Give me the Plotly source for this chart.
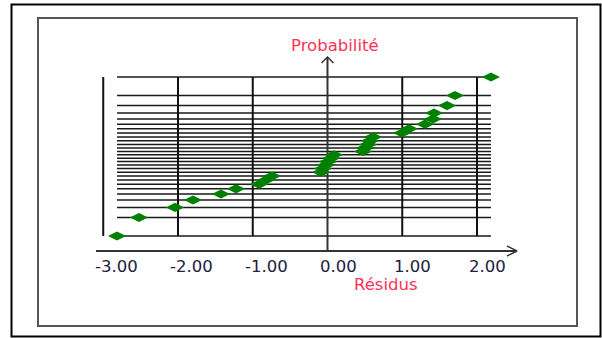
import plotly.graph_objects as go

# ---- data ----
residus = [-2.816, -2.522, -2.040, -1.799, -1.425, -1.224, -0.916, -0.823, -0.742,
           -0.087, -0.060, -0.020, 0.007, 0.047, 0.087,
           0.475, 0.502, 0.542, 0.569, 0.609,
           0.997, 1.090, 1.304, 1.411, 1.425, 1.599, 1.706, 2.187]
probabilite_z = [-2.100, -1.611, -1.345, -1.150, -0.992, -0.855, -0.732, -0.619, -0.514,
                 -0.414, -0.318, -0.226, -0.135, -0.045, 0.045, 0.135, 0.226, 0.318,
                 0.414, 0.514, 0.619, 0.732, 0.855, 0.992, 1.150, 1.345, 1.611, 2.100]
tick_values = [-3, -2, -1, 0, 1, 2]
tick_labels = ["-3.00", "-2.00", "-1.00", "0.00", "1.00", "2.00"]
x_title = "Résidus"
y_title = "Probabilité"

W, H = 602, 338
# pixel <-> data mapping (plot area = whole page)
X0_PX, X_UNIT = 327.5, 74.75
Y0_PX, Y_UNIT = 156.5, 159.0 / 4.2

def px_x(px):
    return (px - X0_PX) / X_UNIT

def px_y(py):
    return (Y0_PX - py) / Y_UNIT

xr = [px_x(0), px_x(W)]
yr = [px_y(H), px_y(0)]

fig = go.Figure()

# horizontal probability lines (one per observation), spanning data range
xmin, xmax = min(residus), max(residus)
hx, hy = [], []
for z in probabilite_z:
    hx += [xmin, xmax, None]
    hy += [z, z, None]
fig.add_trace(go.Scatter(x=hx, y=hy, mode="lines",
                         line=dict(color="#1a1a1a", width=1.5),
                         hoverinfo="skip", showlegend=False))

# vertical grid lines at ticks (except 0 = axis)
zmin, zmax = min(probabilite_z), max(probabilite_z)
vx, vy = [], []
for t in tick_values:
    if t == 0:
        continue
    vx += [t, t, None]
    vy += [zmin, zmax, None]
fig.add_trace(go.Scatter(x=vx, y=vy, mode="lines",
                         line=dict(color="#111111", width=2),
                         hoverinfo="skip", showlegend=False))

# axes
x_axis_y = px_y(251)
y_axis_top = px_y(57)
fig.add_trace(go.Scatter(x=[px_x(96), px_x(516), None, 0, 0],
                         y=[x_axis_y, x_axis_y, None, x_axis_y, y_axis_top],
                         mode="lines", line=dict(color="#333333", width=2),
                         hoverinfo="skip", showlegend=False))
# arrow heads
fig.add_trace(go.Scatter(x=[px_x(507), px_x(517), px_x(507), None,
                            px_x(321.5), 0, px_x(333.5)],
                         y=[px_y(246), x_axis_y, px_y(256), None,
                            px_y(63), y_axis_top, px_y(63)],
                         mode="lines", line=dict(color="#333333", width=1.5),
                         hoverinfo="skip", showlegend=False))

# points
fig.add_trace(go.Scatter(x=residus, y=probabilite_z, mode="markers",
                         marker=dict(symbol="diamond-wide", size=13, color="#008000",
                                     line=dict(width=0)),
                         showlegend=False))

annotations = []
for t, lab in zip(tick_values, tick_labels):
    annotations.append(dict(x=t, y=px_y(266), xref="x", yref="y", text=lab,
                            showarrow=False, xanchor="left", yanchor="middle", xshift=-10,
                            font=dict(family="DejaVu Sans", size=16.5, color="#202040")))
annotations.append(dict(x=px_x(334.5), y=px_y(45.5), xref="x", yref="y", text=y_title,
                        showarrow=False, xanchor="center", yanchor="middle",
                        font=dict(family="DejaVu Sans", size=16.5, color="#ff3355")))
annotations.append(dict(x=px_x(386), y=px_y(284), xref="x", yref="y", text=x_title,
                        showarrow=False, xanchor="center", yanchor="middle",
                        font=dict(family="DejaVu Sans", size=16.5, color="#ff3355")))

shapes = [
    dict(type="rect", xref="paper", yref="paper",
         x0=11.5 / W, x1=600.5 / W, y0=1 - 336.5 / H, y1=1 - 4.5 / H,
         line=dict(color="#000000", width=2)),
    dict(type="rect", xref="paper", yref="paper",
         x0=38 / W, x1=577 / W, y0=1 - 326 / H, y1=1 - 18 / H,
         line=dict(color="#555555", width=2)),
]

fig.update_layout(
    width=W, height=H,
    margin=dict(l=0, r=0, t=0, b=0),
    paper_bgcolor="white", plot_bgcolor="white",
    xaxis=dict(range=xr, visible=False, fixedrange=True),
    yaxis=dict(range=yr, visible=False, fixedrange=True),
    annotations=annotations, shapes=shapes,
    showlegend=False,
)

fig.write_html("out.html", config={"displayModeBar": False})
